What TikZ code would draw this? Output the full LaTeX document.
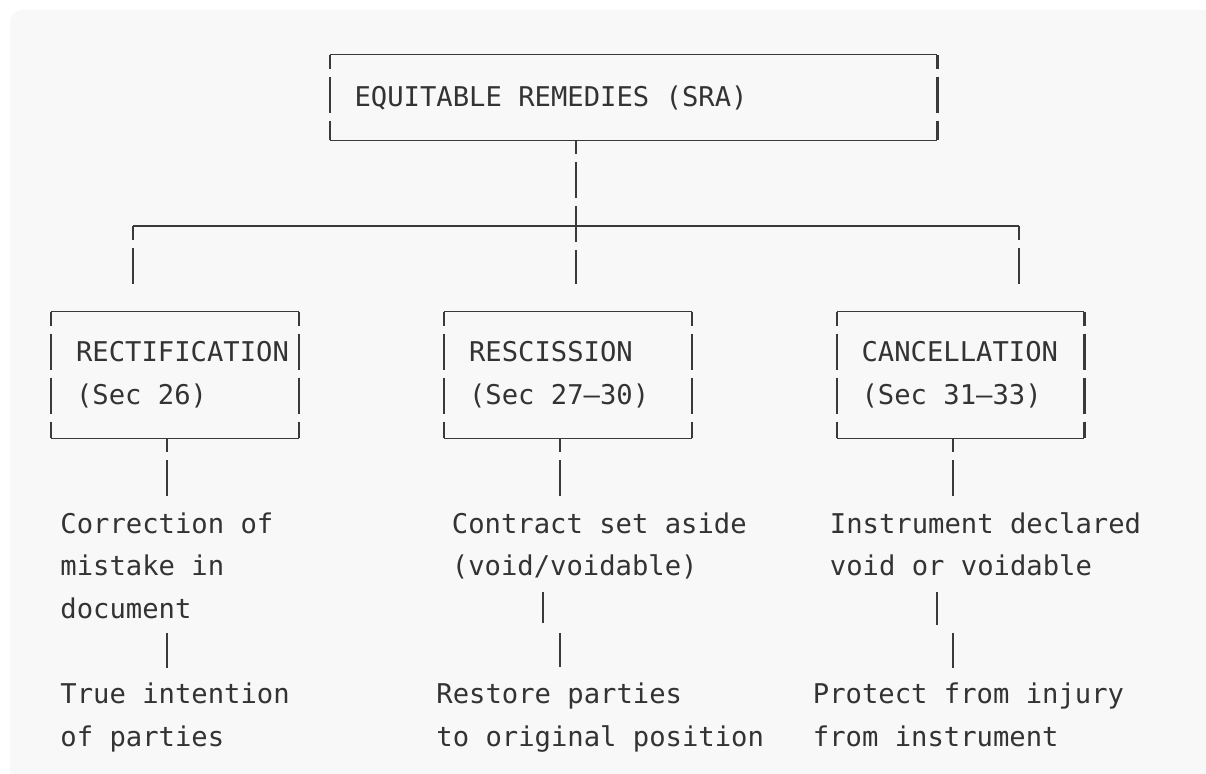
\documentclass[tikz,border=0pt]{standalone}
\usepackage{fontspec}
\setmonofont{DejaVu Sans Mono}
\usepackage{tikz}
\usetikzlibrary{calc}
\definecolor{panel}{HTML}{F8F8F8}
\definecolor{ink}{HTML}{333333}
\definecolor{linegray}{HTML}{3A3A3A}
\tikzset{
	mono/.style={font=\ttfamily\fontsize{13.6pt}{21.3pt}\selectfont, text=ink},
	box/.style={mono, inner xsep=12.3pt, inner ysep=0pt, align=flush left},
	note/.style={mono, inner sep=0pt, anchor=base west, align=flush left, text width=165pt},
	wire/.style={draw=linegray, line width=0.85pt},
	vwire/.style={wire, line width=1.1pt},
	rowdash/.style={vwire, dash pattern=on 18pt off 4pt, dash phase=11pt}
}
\begin{document}
\begin{tikzpicture}[x=0.5pt,y=-0.5pt]
	\useasboundingbox (0,0) rectangle (1206,774);
	\fill[white] (0,0) rectangle (1206,774);
	\fill[panel, rounded corners=6pt] (10,10) rectangle (1230,800);

	\node[box, minimum width=303.5pt, minimum height=42.5pt, text width=278.9pt] (sra) at (633.5,97.5) {EQUITABLE REMEDIES (SRA)};
	\foreach \n/\x/\t in {
		rect/175/{RECTIFICATION\\(Sec 26)},
		resc/568/{RESCISSION\\(Sec 27–30)},
		canc/960.5/{CANCELLATION\\(Sec 31–33)}}{
		\node[box, minimum width=123.5pt, minimum height=63pt, text width=98.9pt] (\n) at (\x,375) {\t};
	}
	\foreach \b in {sra,rect,resc,canc}{
		\draw[wire] (\b.north west) -- (\b.north east) (\b.south west) -- (\b.south east);
		\draw[rowdash] (\b.north west) -- (\b.south west) (\b.north east) -- (\b.south east);
	}

	\foreach \n/\x/\y/\t in {
		rectA/60/533.4/{Correction of\\mistake in\\document},
		rescA/451.5/533.4/{Contract set aside\\(void/voidable)},
		cancA/829.5/533.4/{Instrument declared\\void or voidable},
		rectB/60/703.8/{True intention\\of parties},
		rescB/436/703.8/{Restore parties\\to original position},
		cancB/812.5/703.8/{Protect from injury\\from instrument}}{
		\node[note] (\n) at (\x,\y) {\t};
	}

	\coordinate (hub) at (576,226);
	\coordinate (barL) at (133,226);
	\coordinate (barR) at (1019,226);
	\foreach \n/\x/\y in {dropL/133/284, dropM/576/284, dropR/1019/284,
		rectS/167/497, rescS/560/497, cancS/953/497,
		rectU/167/633, rectV/167/668, rescU/543/592, rescV/543/623, rescW/560/633, rescX/560/667,
		cancU/937/592, cancV/937/625, cancW/953/633, cancX/953/668}
		\coordinate (\n) at (\x,\y);

	\draw[rowdash] (sra.south -| hub) -- (dropM);
	\draw[wire] (barL) -- (barR);
	\draw[rowdash] (barL) -- (dropL) (barR) -- (dropR);
	\foreach \b in {rect,resc,canc}
		\draw[rowdash] (\b.south -| \b S) -- (\b S);
	\draw[vwire] (rectU) -- (rectV) (rescU) -- (rescV) (rescW) -- (rescX) (cancU) -- (cancV) (cancW) -- (cancX);
\end{tikzpicture}
\end{document}
